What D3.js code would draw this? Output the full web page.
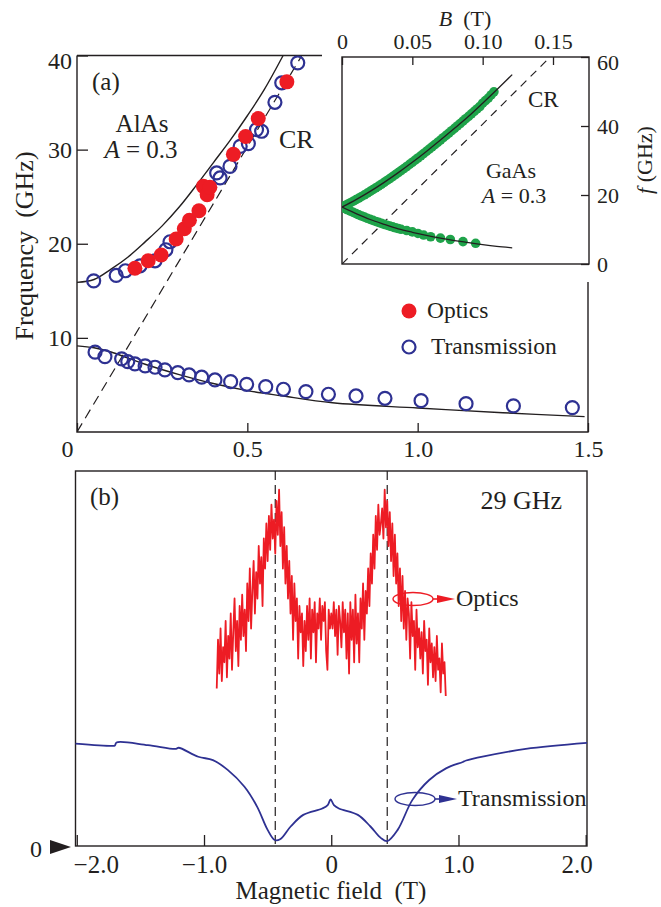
<!DOCTYPE html>
<html>
<head>
<meta charset="utf-8">
<script src="https://cdn.jsdelivr.net/npm/d3@7"></script>
<style>
  body { margin: 0; background: #fff; }
  text { font-family: "Liberation Serif", "Times New Roman", serif; fill: #231f20; }
</style>
</head>
<body>
<svg id="chart"></svg>
<script>
// Canvas size
const width = 661, height = 907;
const ink = "#231f20", red = "#ed1c24", blue = "#2e3192", green = "#1fa34a";
const serif = '"Liberation Serif", "Times New Roman", serif';

// ---- Panel (a) data: AlAs, A = 0.3 ----
const transUpB = [0.049, 0.115, 0.142, 0.185, 0.229, 0.261, 0.273, 0.410, 0.420, 0.449, 0.479, 0.503, 0.527, 0.542, 0.581, 0.601, 0.648];
const transUpF = [16.06, 16.63, 17.13, 17.66, 18.19, 19.36, 20.21, 27.52, 26.99, 28.22, 30.35, 30.64, 32.13, 31.95, 35.03, 37.10, 39.22];
const transLowB = [0.053, 0.082, 0.131, 0.149, 0.170, 0.200, 0.229, 0.258, 0.296, 0.329, 0.366, 0.405, 0.451, 0.498, 0.554, 0.606, 0.672, 0.738, 0.819, 0.904, 1.010, 1.142, 1.281, 1.454];
const transLowF = [8.48, 8.01, 7.77, 7.48, 7.23, 7.02, 6.88, 6.60, 6.31, 6.06, 5.82, 5.53, 5.35, 5.07, 4.82, 4.54, 4.29, 4.01, 3.83, 3.58, 3.33, 3.01, 2.77, 2.59];
const opticsB = [0.170, 0.209, 0.247, 0.291, 0.315, 0.330, 0.358, 0.371, 0.382, 0.390, 0.459, 0.495, 0.532, 0.616];
const opticsF = [17.4, 18.2, 18.8, 20.5, 21.6, 22.5, 23.5, 26.1, 25.2, 26.0, 29.5, 31.4, 33.3, 37.2];
const fitUpB = [0, 0.05, 0.1, 0.15, 0.2, 0.25, 0.3, 0.35, 0.4, 0.45, 0.5, 0.55, 0.605];
const fitUpF = [15.9, 16.2, 17.3, 18.6, 20.2, 21.9, 23.9, 26.2, 28.6, 31.0, 33.6, 36.4, 40.0];
const fitLowB = [0, 0.05, 0.1, 0.15, 0.2, 0.3, 0.4, 0.5, 0.6, 0.75, 1.0, 1.25, 1.49];
const fitLowF = [9.15, 8.95, 8.5, 7.85, 7.2, 6.1, 5.15, 4.4, 3.85, 3.1, 2.55, 2.05, 1.63];
const crAB = [0, 0.66], crAF = [0, 40];
const xTicksA = [0, 0.5, 1.0, 1.5], yTicksA = [10, 20, 30, 40];

// ---- Inset data: GaAs, A = 0.3 ----
const gUpB = [0, 0.002, 0.004, 0.006, 0.008, 0.010, 0.012, 0.014, 0.016, 0.018, 0.020, 0.022, 0.024, 0.026, 0.028, 0.030, 0.032, 0.034, 0.036, 0.038,
  0.040, 0.042, 0.044, 0.046, 0.048, 0.050, 0.052, 0.054, 0.056, 0.058, 0.060, 0.062, 0.064, 0.066, 0.068, 0.070, 0.072, 0.074, 0.076, 0.078,
  0.080, 0.082, 0.084, 0.086, 0.088, 0.090, 0.092, 0.094, 0.096, 0.098, 0.100, 0.102, 0.104, 0.106, 0.108];
const gUpF = [16.5, 16.91, 17.33, 17.76, 18.2, 18.65, 19.11, 19.58, 20.06, 20.54, 21.04, 21.55, 22.06, 22.58, 23.12, 23.66, 24.21, 24.76, 25.33, 25.9,
  26.48, 27.07, 27.66, 28.26, 28.87, 29.49, 30.1, 30.73, 31.36, 32.0, 32.64, 33.29, 33.94, 34.6, 35.26, 35.93, 36.6, 37.27, 37.95, 38.64,
  39.32, 40.01, 40.71, 41.41, 42.11, 42.81, 43.52, 44.23, 44.94, 45.65, 46.6, 47.35, 48.1, 49.0, 49.9];
const gLowB = [0, 0.002, 0.004, 0.006, 0.008, 0.010, 0.012, 0.014, 0.016, 0.018, 0.020, 0.022, 0.024, 0.026, 0.028, 0.030, 0.032, 0.034, 0.036, 0.038,
  0.040, 0.042, 0.046, 0.050, 0.054, 0.058, 0.063, 0.070, 0.077, 0.086, 0.095];
const gLowF = [16.5, 16.1, 15.71, 15.33, 14.96, 14.59, 14.25, 13.91, 13.58, 13.25, 12.94, 12.64, 12.34, 12.06, 11.78, 11.5, 11.25, 10.99, 10.75, 10.51,
  10.28, 10.06, 9.7, 9.3, 8.85, 8.4, 7.9, 7.5, 7.1, 6.5, 6.0];
const iFitUpB = [0, 0.01, 0.02, 0.03, 0.04, 0.05, 0.06, 0.07, 0.08, 0.09, 0.10, 0.11, 0.121];
const iFitUpF = [16.5, 18.65, 21.04, 23.66, 26.48, 29.49, 32.64, 35.93, 39.32, 42.81, 46.6, 50.5, 54.9];
const iFitLowB = [0, 0.01, 0.02, 0.03, 0.04, 0.05, 0.06, 0.07, 0.08, 0.09, 0.10, 0.11, 0.121];
const iFitLowF = [16.5, 14.6, 12.9, 11.5, 10.2, 9.2, 8.3, 7.5, 6.8, 6.2, 5.6, 5.1, 4.7];
const crIB = [0, 0.148], crIF = [0, 60];
const xTicksI = [0, 0.05, 0.10, 0.15], yTicksI = [0, 20, 40, 60];

// ---- Panel (b) data: 29 GHz traces ----
const transTraceB = [-2.01, -1.721, -1.70, -1.688, -1.441, -1.22, -1.20, -1.045, -0.930, -0.814, -0.682, -0.583, -0.500, -0.444, -0.402, -0.319, -0.220, -0.071, -0.028, -0.005, 0.021, 0.060, 0.209, 0.308, 0.391, 0.440, 0.522, 0.638, 0.770, 0.902, 1.034, 1.06, 1.199, 1.529, 2.01];
const transTraceV = [0.273, 0.267, 0.268, 0.276, 0.269, 0.259, 0.262, 0.238, 0.229, 0.203, 0.158, 0.105, 0.043, 0.016, 0.018, 0.052, 0.083, 0.100, 0.109, 0.124, 0.109, 0.100, 0.083, 0.052, 0.021, 0.013, 0.043, 0.123, 0.176, 0.207, 0.224, 0.228, 0.239, 0.259, 0.275];
const opticsStart = -0.9, opticsStep = 0.01;
const opticsTraceV = [
  0.42, 0.55, 0.46, 0.58, 0.44, 0.53, 0.49, 0.60, 0.45, 0.56,
  0.50, 0.62, 0.47, 0.57, 0.66, 0.52, 0.60, 0.48, 0.64, 0.55,
  0.67, 0.56, 0.63, 0.52, 0.70, 0.60, 0.74, 0.58, 0.68, 0.76,
  0.62, 0.73, 0.66, 0.80, 0.70, 0.77, 0.64, 0.82, 0.74, 0.86,
  0.76, 0.88, 0.79, 0.91, 0.82, 0.87, 0.78, 0.92, 0.83, 0.95,
  0.80, 0.89, 0.74, 0.85, 0.70, 0.80, 0.66, 0.76, 0.62, 0.72,
  0.55, 0.70, 0.60, 0.66, 0.50, 0.64, 0.57, 0.62, 0.48, 0.60,
  0.52, 0.64, 0.55, 0.66, 0.50, 0.63, 0.57, 0.65, 0.49, 0.62,
  0.58, 0.66, 0.55, 0.64, 0.60, 0.65, 0.52, 0.47, 0.63, 0.58,
  0.62,
  0.58, 0.65, 0.56, 0.63, 0.51, 0.64, 0.60, 0.53, 0.65, 0.57,
  0.63, 0.50, 0.62, 0.46, 0.65, 0.55, 0.63, 0.49, 0.67, 0.54,
  0.62, 0.49, 0.66, 0.58, 0.70, 0.55, 0.68, 0.62, 0.74, 0.64,
  0.78, 0.70, 0.83, 0.74, 0.88, 0.79, 0.91, 0.83, 0.86, 0.90,
  0.82, 0.95, 0.85, 0.92, 0.80, 0.89, 0.76, 0.86, 0.72, 0.83,
  0.70, 0.78, 0.64, 0.74, 0.60, 0.72, 0.58, 0.68, 0.55, 0.66,
  0.62, 0.50, 0.65, 0.56, 0.60, 0.47, 0.63, 0.53, 0.58, 0.50,
  0.57, 0.46, 0.60, 0.52, 0.55, 0.43, 0.58, 0.49, 0.54, 0.45,
  0.53, 0.44, 0.56, 0.47, 0.50, 0.41, 0.54, 0.46, 0.49, 0.40
];
const resonanceB = [-0.44, 0.44];
const xTicksB = [-2, -1, 0, 1, 2];

const svg = d3.select("#chart").attr("width", width).attr("height", height);

function styleAxis(g, size) {
  g.attr("font-family", serif).attr("font-size", size).attr("color", ink);
  g.select(".domain").remove();
  g.selectAll(".tick line").attr("stroke-width", 1.3);
}

// ================= Panel (a) =================
const xA = d3.scaleLinear().domain([0, 1.5]).range([77, 588]);
const yA = d3.scaleLinear().domain([0, 40]).range([432, 55.5]);

svg.append("clipPath").attr("id", "clipA")
  .append("rect").attr("x", 77).attr("y", 55.5).attr("width", 511).attr("height", 376.5);

svg.append("path")
  .attr("d", `M${xA(0)},${yA(40)}H322M${xA(0)},${yA(40)}V${yA(0)}H${xA(1.5)}V282`)
  .attr("fill", "none").attr("stroke", ink).attr("stroke-width", 1.4);

svg.append("g").attr("transform", `translate(0,${yA(0)})`)
  .call(d3.axisBottom(xA).tickValues(xTicksA).tickSize(-9).tickPadding(8)
    .tickFormat(d => d === 0 ? "0" : d3.format(".1f")(d)))
  .call(g => styleAxis(g, 24))
  .call(g => g.selectAll(".tick text").filter(d => d === 0).attr("dx", -10));

svg.append("g").attr("transform", `translate(${xA(0)},0)`)
  .call(d3.axisLeft(yA).tickValues(yTicksA).tickSize(-11).tickPadding(5))
  .call(g => styleAxis(g, 24))
  .call(g => g.selectAll(".tick text").filter(d => d === 40).attr("dy", "0.55em"));

svg.append("text")
  .attr("transform", "translate(33,246) rotate(-90)")
  .attr("text-anchor", "middle").attr("font-size", 26)
  .text("Frequency\u00A0\u00A0(GHz)");

const lineA = d3.line().x(d => xA(d[0])).y(d => yA(d[1])).curve(d3.curveCatmullRom);
const gA = svg.append("g").attr("clip-path", "url(#clipA)");

gA.append("path").datum(d3.zip(crAB, crAF)).attr("d", d3.line().x(d => xA(d[0])).y(d => yA(d[1])))
  .attr("fill", "none").attr("stroke", ink).attr("stroke-width", 1.2).attr("stroke-dasharray", "10,6");
gA.append("path").datum(d3.zip(fitUpB, fitUpF)).attr("d", lineA)
  .attr("fill", "none").attr("stroke", ink).attr("stroke-width", 1.4);
gA.append("path").datum(d3.zip(fitLowB, fitLowF)).attr("d", lineA)
  .attr("fill", "none").attr("stroke", ink).attr("stroke-width", 1.4);

gA.selectAll(".trans")
  .data(d3.zip(transUpB, transUpF).concat(d3.zip(transLowB, transLowF)))
  .enter().append("circle")
  .attr("class", "trans")
  .attr("cx", d => xA(d[0])).attr("cy", d => yA(d[1])).attr("r", 6.5)
  .attr("fill", "none").attr("stroke", blue).attr("stroke-width", 2.2);

gA.selectAll(".optics")
  .data(d3.zip(opticsB, opticsF))
  .enter().append("circle")
  .attr("class", "optics")
  .attr("cx", d => xA(d[0])).attr("cy", d => yA(d[1])).attr("r", 7.5)
  .attr("fill", red);

svg.append("text").attr("x", 92).attr("y", 90).attr("font-size", 25).text("(a)");
svg.append("text").attr("x", 142).attr("y", 132).attr("text-anchor", "middle").attr("font-size", 25).text("AlAs");
const aTxt = svg.append("text").attr("x", 141).attr("y", 158).attr("text-anchor", "middle").attr("font-size", 25);
aTxt.append("tspan").attr("font-style", "italic").text("A");
aTxt.append("tspan").text(" = 0.3");
svg.append("text").attr("x", 279).attr("y", 148).attr("font-size", 26).text("CR");

// legend
svg.append("circle").attr("cx", 409).attr("cy", 311).attr("r", 7.5).attr("fill", red);
svg.append("text").attr("x", 427).attr("y", 318).attr("font-size", 23.5).text("Optics");
svg.append("circle").attr("cx", 409).attr("cy", 347).attr("r", 6.5)
  .attr("fill", "none").attr("stroke", blue).attr("stroke-width", 2.2);
svg.append("text").attr("x", 431).attr("y", 354).attr("font-size", 23.5).text("Transmission");

// ================= Inset =================
const xI = d3.scaleLinear().domain([0, 0.15]).range([342, 553]);
const yI = d3.scaleLinear().domain([0, 60]).range([264, 57]);

svg.append("clipPath").attr("id", "clipI")
  .append("rect").attr("x", 342).attr("y", 57).attr("width", 247).attr("height", 207);

svg.append("rect").attr("x", 342).attr("y", 57).attr("width", 247).attr("height", 207)
  .attr("fill", "#fff").attr("stroke", ink).attr("stroke-width", 1.4);

svg.append("g").attr("transform", "translate(0,57)")
  .call(d3.axisTop(xI).tickValues(xTicksI).tickSize(-8).tickPadding(8)
    .tickFormat(d => d === 0 ? "0" : d3.format(".2f")(d)))
  .call(g => styleAxis(g, 22));

svg.append("g").attr("transform", "translate(589,0)")
  .call(d3.axisRight(yI).tickValues(yTicksI).tickSize(-8).tickPadding(8))
  .call(g => styleAxis(g, 22))
  .call(g => g.selectAll(".tick text").filter(d => d === 60).attr("dy", "0.55em"));

const bLabel = svg.append("text").attr("x", 465).attr("y", 26).attr("text-anchor", "middle").attr("font-size", 22);
bLabel.append("tspan").attr("font-style", "italic").text("B");
bLabel.append("tspan").text("\u00A0\u00A0(T)");
const fLabel = svg.append("text").attr("transform", "translate(652,160) rotate(-90)")
  .attr("text-anchor", "middle").attr("font-size", 22);
fLabel.append("tspan").attr("font-style", "italic").text("f");
fLabel.append("tspan").text("\u00A0(GHz)");

const gI = svg.append("g").attr("clip-path", "url(#clipI)");
const lineI = d3.line().x(d => xI(d[0])).y(d => yI(d[1])).curve(d3.curveCatmullRom);

gI.append("path").datum(d3.zip(crIB, crIF)).attr("d", d3.line().x(d => xI(d[0])).y(d => yI(d[1])))
  .attr("fill", "none").attr("stroke", ink).attr("stroke-width", 1.2).attr("stroke-dasharray", "8,6");
gI.selectAll(".gdot")
  .data(d3.zip(gUpB, gUpF).concat(d3.zip(gLowB, gLowF)))
  .enter().append("circle")
  .attr("class", "gdot")
  .attr("cx", d => xI(d[0])).attr("cy", d => yI(d[1])).attr("r", 4.8)
  .attr("fill", green);
gI.append("path").datum(d3.zip(iFitUpB, iFitUpF)).attr("d", lineI)
  .attr("fill", "none").attr("stroke", ink).attr("stroke-width", 1.3);
gI.append("path").datum(d3.zip(iFitLowB, iFitLowF)).attr("d", lineI)
  .attr("fill", "none").attr("stroke", ink).attr("stroke-width", 1.3);

svg.append("text").attr("x", 528).attr("y", 107).attr("font-size", 23).text("CR");
svg.append("text").attr("x", 511).attr("y", 178).attr("text-anchor", "middle").attr("font-size", 22).text("GaAs");
const aTxtI = svg.append("text").attr("x", 514).attr("y", 203).attr("text-anchor", "middle").attr("font-size", 22);
aTxtI.append("tspan").attr("font-style", "italic").text("A");
aTxtI.append("tspan").text(" = 0.3");

// ================= Panel (b) =================
const xB = d3.scaleLinear().domain([-2.01, 2.01]).range([75.5, 587]);
const yB = d3.scaleLinear().domain([0, 1]).range([846, 471]);

svg.append("rect").attr("x", 75.5).attr("y", 471).attr("width", 511.5).attr("height", 375)
  .attr("fill", "none").attr("stroke", ink).attr("stroke-width", 1.4);

svg.append("g").attr("transform", "translate(0,846)")
  .call(d3.axisBottom(xB).tickValues(xTicksB).tickSize(-11).tickPadding(9)
    .tickFormat(d => d === 0 ? "0" : d3.format(".1f")(d)))
  .call(g => styleAxis(g, 25))
  .call(g => g.selectAll(".tick text").attr("dx", d => d === -2 ? 19 : d === 2 ? -9 : 0));

svg.append("text").attr("x", 331).attr("y", 899).attr("text-anchor", "middle").attr("font-size", 25)
  .text("Magnetic field\u00A0\u00A0(T)");

// zero marker
svg.append("text").attr("x", 36).attr("y", 857).attr("text-anchor", "middle").attr("font-size", 24).text("0");
svg.append("path").attr("d", "M50,840L71,847L50,854Z").attr("fill", ink);

svg.selectAll(".res")
  .data(resonanceB)
  .enter().append("line")
  .attr("class", "res")
  .attr("x1", d => xB(d)).attr("x2", d => xB(d))
  .attr("y1", 471).attr("y2", 846)
  .attr("stroke", ink).attr("stroke-width", 1.2).attr("stroke-dasharray", "9,5");

svg.append("path").datum(d3.zip(transTraceB, transTraceV))
  .attr("d", d3.line().x(d => xB(d[0])).y(d => yB(d[1])).curve(d3.curveCatmullRom))
  .attr("fill", "none").attr("stroke", blue).attr("stroke-width", 1.8);

svg.append("path").datum(opticsTraceV)
  .attr("d", d3.line().x((d, i) => xB(opticsStart + i * opticsStep)).y(d => yB(d)))
  .attr("fill", "none").attr("stroke", red).attr("stroke-width", 1.8).attr("stroke-linejoin", "round");

svg.append("text").attr("x", 90).attr("y", 505).attr("font-size", 25).text("(b)");
svg.append("text").attr("x", 562).attr("y", 509).attr("text-anchor", "end").attr("font-size", 26).text("29 GHz");

// curve tags with loop and arrow
function tag(cx, cy, color, label) {
  svg.append("ellipse").attr("cx", cx).attr("cy", cy).attr("rx", 20).attr("ry", 6.5)
    .attr("fill", "none").attr("stroke", color).attr("stroke-width", 1.4);
  svg.append("line").attr("x1", cx + 20).attr("x2", cx + 26).attr("y1", cy).attr("y2", cy)
    .attr("stroke", color).attr("stroke-width", 1.6);
  svg.append("path").attr("d", `M${cx + 24},${cy - 4}L${cx + 42},${cy}L${cx + 24},${cy + 4}Z`).attr("fill", color);
  svg.append("text").attr("x", cx + 43).attr("y", cy + 7).attr("font-size", 24).text(label);
}
tag(413, 599, red, "Optics");
tag(415, 799, blue, "Transmission");
</script>
</body>
</html>
